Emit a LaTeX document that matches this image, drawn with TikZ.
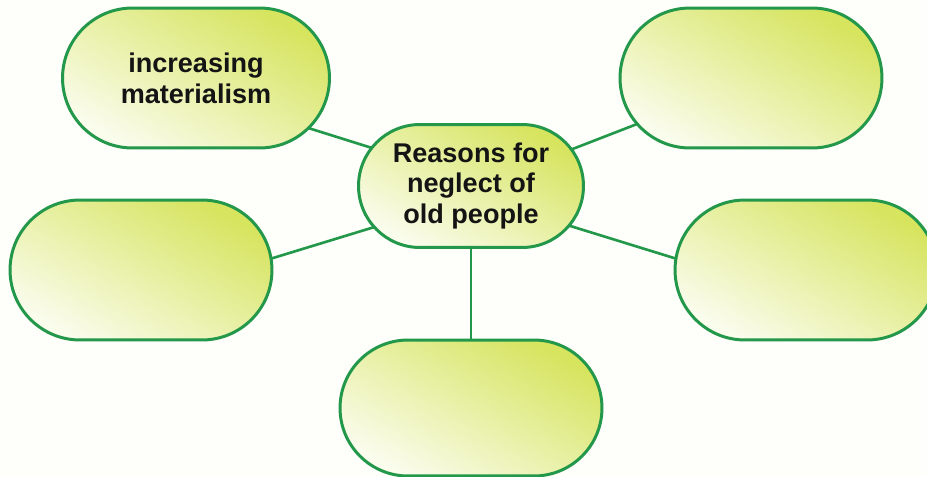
\documentclass[tikz,border=0pt]{standalone}
\usepackage{fontspec}
\setsansfont{Liberation Sans}
\usetikzlibrary{shapes.misc}
\definecolor{pagebg}{HTML}{FEFEFA}
\definecolor{ringgreen}{HTML}{23984A}
\definecolor{limetop}{HTML}{D6E45E}
\definecolor{limelow}{HTML}{FAFCEC}
\definecolor{inkblack}{HTML}{141414}
\tikzset{
  bubble/.style={
    rounded rectangle, draw=ringgreen, line width=1.7pt,
    shading=axis, top color=limetop, bottom color=limelow,
    shading angle=-30,
    minimum width=#1, minimum height=2.8cm,
    inner sep=0pt, outer sep=0pt,
    align=center, text=inkblack,
    font=\sffamily\bfseries\fontsize{15.4}{17.6}\selectfont
  },
  bubble/.default=5.24cm,
  link/.style={draw=ringgreen, line width=1.5pt}
}
\begin{document}
\begin{tikzpicture}[x=0.02cm, y=-0.02cm]

  % page background
  \fill[pagebg] (0,0) rectangle (927,477);
  \useasboundingbox (0,0) rectangle (927,477);

  % hub
  \node[bubble=4.5cm, minimum height=2.46cm] (hub) at (471,186)
    {Reasons for\\neglect of\\old people};

  % outer bubbles
  \node[bubble=5.34cm] (reasonA) at (196,78) {increasing\\materialism};
  \node[bubble]        (reasonB) at (751,78) {};
  \node[bubble]        (reasonC) at (141,270) {};
  \node[bubble]        (reasonD) at (806,270) {};
  \node[bubble, minimum height=2.72cm] (reasonE) at (471,408) {};

  % spokes
  \draw[link] (hub.159) -- (reasonA.-24);
  \draw[link] (hub.20) -- (reasonB.202);
  \draw[link] (hub.203) -- (reasonC.5);
  \draw[link] (hub.-22) -- (reasonD.175);
  \draw[link] (hub.south) -- (reasonE.north);

\end{tikzpicture}
\end{document}
